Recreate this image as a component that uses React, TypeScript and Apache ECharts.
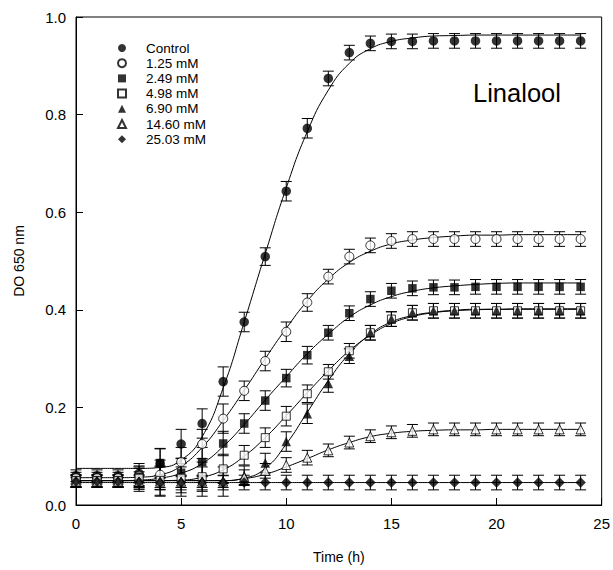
import React, { useEffect, useRef } from "react";
import * as echarts from "echarts";

const hours = [0, 1, 2, 3, 4, 5, 6, 7, 8, 9, 10, 11, 12, 13, 14, 15, 16, 17, 18, 19, 20, 21, 22, 23, 24];

const seriesNames = ["Control", "1.25 mM", "2.49 mM", "4.98 mM", "6.90 mM", "14.60 mM", "25.03 mM"];

const control = [0.060, 0.060, 0.060, 0.065, 0.085, 0.125, 0.167, 0.253, 0.375, 0.509, 0.643, 0.772, 0.874, 0.927, 0.946, 0.950, 0.950, 0.951, 0.951, 0.951, 0.951, 0.951, 0.951, 0.951, 0.951];
const mm125 = [0.055, 0.055, 0.055, 0.060, 0.062, 0.088, 0.125, 0.177, 0.234, 0.295, 0.355, 0.415, 0.468, 0.509, 0.532, 0.541, 0.545, 0.545, 0.545, 0.545, 0.545, 0.545, 0.545, 0.545, 0.545];
const mm249 = [0.050, 0.050, 0.050, 0.058, 0.086, 0.066, 0.088, 0.126, 0.167, 0.214, 0.260, 0.307, 0.353, 0.393, 0.422, 0.439, 0.444, 0.446, 0.446, 0.447, 0.447, 0.447, 0.447, 0.447, 0.447];
const mm498 = [0.050, 0.050, 0.050, 0.055, 0.050, 0.055, 0.058, 0.074, 0.102, 0.138, 0.182, 0.228, 0.273, 0.316, 0.353, 0.381, 0.394, 0.398, 0.398, 0.398, 0.398, 0.398, 0.398, 0.398, 0.398];
const mm690 = [0.046, 0.046, 0.046, 0.048, 0.048, 0.048, 0.048, 0.048, 0.060, 0.086, 0.130, 0.187, 0.249, 0.305, 0.353, 0.381, 0.394, 0.398, 0.398, 0.398, 0.398, 0.398, 0.398, 0.398, 0.398];
const mm1460 = [0.048, 0.048, 0.048, 0.048, 0.048, 0.048, 0.048, 0.048, 0.057, 0.070, 0.082, 0.097, 0.112, 0.128, 0.141, 0.149, 0.152, 0.155, 0.155, 0.155, 0.155, 0.155, 0.155, 0.155, 0.155];
const mm2503 = [0.048, 0.048, 0.048, 0.047, 0.046, 0.046, 0.046, 0.046, 0.046, 0.046, 0.046, 0.046, 0.046, 0.046, 0.046, 0.046, 0.046, 0.046, 0.046, 0.046, 0.046, 0.046, 0.046, 0.046, 0.046];

const errControl = [0.012, 0.012, 0.012, 0.02, 0.03, 0.03, 0.03, 0.03, 0.02, 0.018, 0.02, 0.02, 0.015, 0.015, 0.015, 0.015, 0.015, 0.015, 0.015, 0.015, 0.015, 0.015, 0.015, 0.015, 0.015];
const err125 = [0.012, 0.012, 0.012, 0.02, 0.03, 0.03, 0.03, 0.03, 0.02, 0.02, 0.02, 0.018, 0.015, 0.015, 0.015, 0.015, 0.015, 0.015, 0.015, 0.015, 0.015, 0.015, 0.015, 0.015, 0.015];
const err249 = [0.012, 0.012, 0.012, 0.02, 0.03, 0.03, 0.03, 0.025, 0.02, 0.02, 0.018, 0.018, 0.015, 0.015, 0.015, 0.015, 0.015, 0.015, 0.015, 0.015, 0.015, 0.015, 0.015, 0.015, 0.015];
const err498 = [0.012, 0.012, 0.012, 0.02, 0.03, 0.03, 0.03, 0.03, 0.02, 0.02, 0.02, 0.018, 0.015, 0.015, 0.015, 0.015, 0.015, 0.015, 0.015, 0.015, 0.015, 0.015, 0.015, 0.015, 0.015];
const err690 = [0.01, 0.01, 0.01, 0.02, 0.03, 0.03, 0.03, 0.03, 0.02, 0.02, 0.02, 0.02, 0.018, 0.015, 0.015, 0.015, 0.015, 0.015, 0.015, 0.015, 0.015, 0.015, 0.015, 0.015, 0.015];
const err1460 = [0.012, 0.012, 0.012, 0.012, 0.012, 0.012, 0.012, 0.012, 0.015, 0.015, 0.015, 0.015, 0.013, 0.013, 0.013, 0.013, 0.013, 0.013, 0.013, 0.013, 0.013, 0.013, 0.013, 0.013, 0.013];
const err2503 = [0.012, 0.012, 0.012, 0.015, 0.015, 0.015, 0.015, 0.015, 0.015, 0.015, 0.015, 0.015, 0.015, 0.015, 0.015, 0.015, 0.015, 0.015, 0.015, 0.015, 0.015, 0.015, 0.015, 0.015, 0.015];

const fitControl = [0.075, 0.075, 0.075, 0.075, 0.077, 0.092, 0.14, 0.24, 0.375, 0.515, 0.65, 0.765, 0.85, 0.905, 0.935, 0.95, 0.957, 0.961, 0.962, 0.963, 0.963, 0.963, 0.963, 0.963, 0.963];
const fit125 = [0.056, 0.056, 0.056, 0.057, 0.062, 0.08, 0.118, 0.173, 0.235, 0.3, 0.362, 0.418, 0.463, 0.497, 0.52, 0.535, 0.543, 0.548, 0.551, 0.553, 0.553, 0.554, 0.554, 0.554, 0.554];
const fit249 = [0.05, 0.05, 0.05, 0.051, 0.055, 0.065, 0.085, 0.12, 0.165, 0.215, 0.263, 0.31, 0.35, 0.385, 0.41, 0.427, 0.438, 0.445, 0.449, 0.452, 0.454, 0.455, 0.455, 0.455, 0.455];
const fit498 = [0.05, 0.05, 0.05, 0.05, 0.05, 0.051, 0.057, 0.072, 0.1, 0.138, 0.183, 0.23, 0.275, 0.316, 0.348, 0.372, 0.386, 0.394, 0.398, 0.4, 0.401, 0.401, 0.401, 0.401, 0.401];
const fit690 = [0.05, 0.05, 0.05, 0.05, 0.05, 0.05, 0.05, 0.05, 0.055, 0.075, 0.125, 0.19, 0.255, 0.31, 0.35, 0.375, 0.388, 0.395, 0.399, 0.401, 0.401, 0.402, 0.402, 0.402, 0.402];
const fit1460 = [0.05, 0.05, 0.05, 0.05, 0.05, 0.05, 0.05, 0.05, 0.054, 0.063, 0.078, 0.095, 0.113, 0.128, 0.14, 0.147, 0.151, 0.153, 0.154, 0.154, 0.155, 0.155, 0.155, 0.155, 0.155];
const fit2503 = [0.046, 0.046, 0.046, 0.046, 0.046, 0.046, 0.046, 0.046, 0.046, 0.046, 0.046, 0.046, 0.046, 0.046, 0.046, 0.046, 0.046, 0.046, 0.046, 0.046, 0.046, 0.046, 0.046, 0.046, 0.046];

const xTicks = [0, 5, 10, 15, 20, 25];
const yTicks = [0, 0.2, 0.4, 0.6, 0.8, 1.0];

const FONT = "'Liberation Sans', Arial, sans-serif";

type Spec = { name: string; values: number[]; err: number[]; fit: number[]; symbol: string; size: number; filled: boolean };

const specs: Spec[] = [
  { name: seriesNames[0], values: control, err: errControl, fit: fitControl, symbol: "circle", size: 9.5, filled: true },
  { name: seriesNames[1], values: mm125, err: err125, fit: fit125, symbol: "circle", size: 9, filled: false },
  { name: seriesNames[2], values: mm249, err: err249, fit: fit249, symbol: "rect", size: 8.5, filled: true },
  { name: seriesNames[3], values: mm498, err: err498, fit: fit498, symbol: "rect", size: 8, filled: false },
  { name: seriesNames[4], values: mm690, err: err690, fit: fit690, symbol: "triangle", size: 9.5, filled: true },
  { name: seriesNames[5], values: mm1460, err: err1460, fit: fit1460, symbol: "triangle", size: 9, filled: false },
  { name: seriesNames[6], values: mm2503, err: err2503, fit: fit2503, symbol: "diamond", size: 10.5, filled: true },
];

function errorRender(params: any, api: any) {
  const x = api.value(0);
  const lo = api.value(1);
  const hi = api.value(2);
  const pLo = api.coord([x, lo]);
  const pHi = api.coord([x, hi]);
  const w = 5.5;
  const style = { stroke: "#000", lineWidth: 1 };
  return {
    type: "group",
    children: [
      { type: "line", shape: { x1: pLo[0], y1: pLo[1], x2: pHi[0], y2: pHi[1] }, style },
      { type: "line", shape: { x1: pLo[0] - w, y1: pLo[1], x2: pLo[0] + w, y2: pLo[1] }, style },
      { type: "line", shape: { x1: pHi[0] - w, y1: pHi[1], x2: pHi[0] + w, y2: pHi[1] }, style },
    ],
  };
}

export default function App() {
  const ref = useRef<HTMLDivElement>(null);
  useEffect(() => {
    if (!ref.current) return;
    const chart = echarts.init(ref.current, null, { renderer: "svg" });
    const series: any[] = [];
    specs.forEach((s) => {
      series.push({
        type: "line",
        name: s.name + " fit",
        data: hours.map((h, i) => [h, s.fit[i]]),
        showSymbol: false,
        smooth: 0.5,
        lineStyle: { color: "#000", width: 1 },
        z: 1,
        silent: true,
      });
    });
    specs.forEach((s) => {
      series.push({
        type: "custom",
        name: s.name + " err",
        renderItem: errorRender,
        data: hours.map((h, i) => [h, s.values[i] - s.err[i], s.values[i] + s.err[i]]),
        encode: { x: 0, y: [1, 2] },
        z: 2,
        silent: true,
      });
    });
    specs.forEach((s) => {
      series.push({
        type: "scatter",
        name: s.name,
        data: hours.map((h, i) => [h, s.values[i]]),
        symbol: s.symbol,
        symbolSize: s.size,
        itemStyle: s.filled
          ? { color: "#000", borderColor: "#000", borderWidth: 0 }
          : { color: "#fff", borderColor: "#000", borderWidth: 1 },
        z: 3,
      });
    });

    chart.setOption({
      animation: false,
      backgroundColor: "#fff",
      textStyle: { fontFamily: FONT },
      grid: { left: 76, right: 9, top: 17, bottom: 65, show: true, borderColor: "#000", borderWidth: 1, backgroundColor: "transparent" },
      legend: {
        data: specs.map((s) => s.name),
        orient: "vertical",
        left: 112,
        top: 36,
        itemWidth: 8,
        itemHeight: 8,
        itemGap: 1.2,
        textStyle: { fontFamily: FONT, fontSize: 13.5, color: "#000", padding: [0, 0, 0, 15], lineHeight: 13.5 },
        selectedMode: false,
      },
      graphic: [
        {
          type: "text",
          left: 473,
          top: 80,
          style: { text: "Linalool", font: "25.5px 'Liberation Sans', Arial, sans-serif", fill: "#000" },
        },
      ],
      xAxis: {
        type: "value",
        min: xTicks[0],
        max: xTicks[xTicks.length - 1],
        interval: 5,
        name: "Time (h)",
        nameLocation: "middle",
        nameGap: 45,
        nameTextStyle: { fontFamily: FONT, fontSize: 14, color: "#000" },
        axisLine: { lineStyle: { color: "#000", width: 1 } },
        axisTick: { inside: true, length: 7, lineStyle: { color: "#000" } },
        axisLabel: { color: "#000", fontSize: 15, margin: 11, fontFamily: FONT },
        splitLine: { show: false },
      },
      yAxis: {
        type: "value",
        min: yTicks[0],
        max: yTicks[yTicks.length - 1],
        interval: 0.2,
        name: "DO 650 nm",
        nameLocation: "middle",
        nameGap: 50,
        nameTextStyle: { fontFamily: FONT, fontSize: 14, color: "#000" },
        axisLine: { lineStyle: { color: "#000", width: 1 } },
        axisTick: { inside: true, length: 7, lineStyle: { color: "#000" } },
        axisLabel: { color: "#000", fontSize: 15, margin: 10, fontFamily: FONT, formatter: (v: number) => v.toFixed(1) },
        splitLine: { show: false },
      },
      series,
    });
    return () => chart.dispose();
  }, []);
  return <div ref={ref} style={{ width: 613, height: 570, position: "absolute", left: 0, top: 0 }} />;
}
